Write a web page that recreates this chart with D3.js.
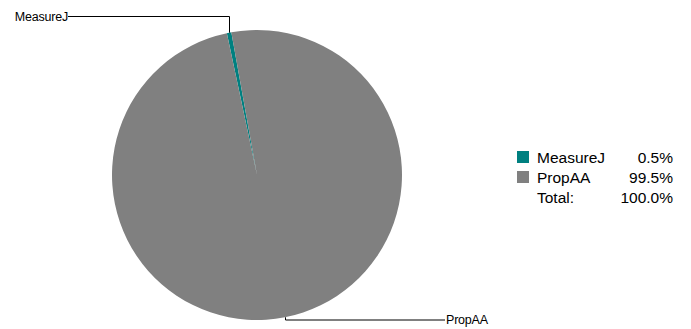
<!DOCTYPE html>
<html><head><meta charset="utf-8">
<script src="https://cdn.jsdelivr.net/npm/d3@7"></script>
<style>body{margin:0;background:#fff;}svg{display:block;font-family:"Liberation Sans",Arial,sans-serif;}</style>
</head><body>
<svg id="c" width="691" height="329"></svg>
<script>
const categories = ["MeasureJ", "PropAA"];
const values = [0.5, 99.5];
const colors = ["#008080", "#808080"];
const totalLabel = "Total:";

const svg = d3.select("#c");
const cx = 257, cy = 175, r = 145;
const startOffset = -12 * Math.PI / 180;
const data = categories.map((c, i) => ({name: c, value: values[i], color: colors[i]}));
const pie = d3.pie().sort(null).value(d => d.value)
  .startAngle(startOffset).endAngle(startOffset + 2 * Math.PI);
const arcs = pie(data);
const arc = d3.arc().innerRadius(0).outerRadius(r);
const g = svg.append("g").attr("transform", `translate(${cx},${cy})`);
g.selectAll("path").data(arcs).enter().append("path")
  .attr("d", arc).attr("fill", d => d.data.color);

// leader lines
const labelY = [16 - cy, 319.5 - cy];
arcs.forEach((a, i) => {
  const m = (a.startAngle + a.endAngle) / 2;
  const px = Math.sin(m) * r, py = -Math.cos(m) * r;
  const x0 = Math.round(px) + 0.5;
  const ly = labelY[i] + 0.5;
  const tx = i === 0 ? 68 - cx : 445 - cx;
  g.append("path").attr("fill", "none").attr("stroke", "#000").attr("stroke-width", 1)
    .attr("d", `M${x0},${py}L${x0},${ly}L${tx},${ly}`);
  g.append("text").attr("x", i === 0 ? tx : tx + 1).attr("y", ly + 4)
    .attr("text-anchor", i === 0 ? "end" : "start")
    .attr("font-size", 12.5).attr("letter-spacing", -0.2).attr("fill", "#000")
    .text(a.data.name);
});

// legend
const leg = svg.append("g");
const total = d3.sum(values);
data.forEach((d, i) => {
  const y = 151 + i * 20;
  leg.append("rect").attr("x", 517).attr("y", y).attr("width", 12).attr("height", 12).attr("fill", d.color);
  leg.append("text").attr("x", 537).attr("y", y + 12).attr("font-size", 15.5).attr("fill", "#000").text(d.name);
  leg.append("text").attr("x", 673).attr("y", y + 12).attr("font-size", 15.5).attr("text-anchor", "end").attr("fill", "#000")
    .text(d3.format(".1f")(d.value / total * 100) + "%");
});
leg.append("text").attr("x", 537).attr("y", 203).attr("font-size", 15.5).attr("fill", "#000").text(totalLabel);
leg.append("text").attr("x", 673).attr("y", 203).attr("font-size", 15.5).attr("text-anchor", "end").attr("fill", "#000")
  .text(d3.format(".1f")(total / total * 100) + "%");
</script>
</body></html>
